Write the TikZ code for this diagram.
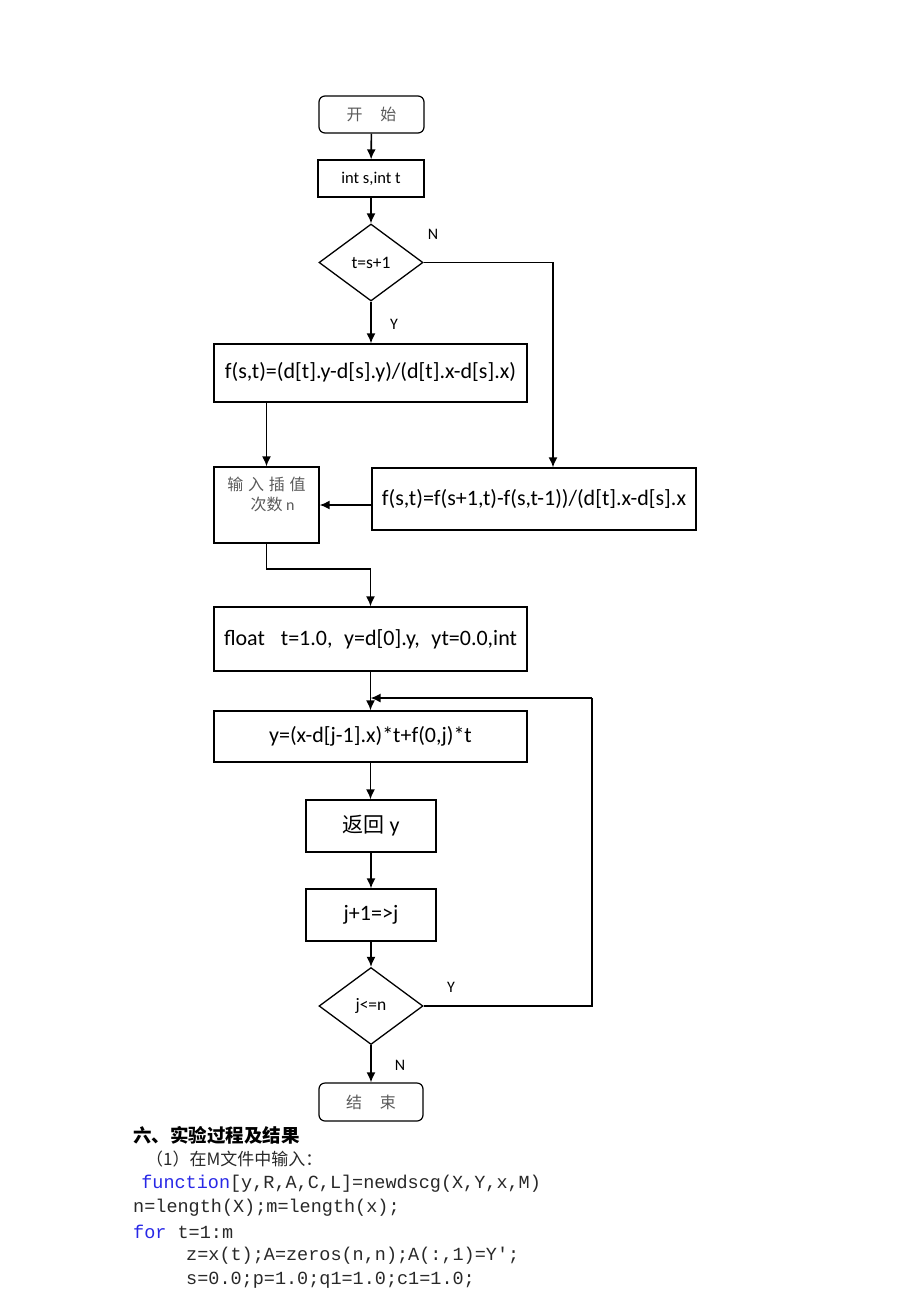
\documentclass[tikz,border=0pt]{standalone}
\usepackage{fontspec}
\setmainfont{Carlito}
\newfontfamily\cjk{Noto Sans CJK SC}
\newfontfamily\mono{Liberation Mono}
\usetikzlibrary{shapes.geometric,arrows.meta}
\definecolor{cjkgray}{RGB}{90,90,90}
\definecolor{codeblue}{RGB}{40,40,230}
\definecolor{codegray}{RGB}{40,40,40}
\tikzset{
  box/.style={draw, line width=1.3pt, rectangle, inner sep=0pt, font=\fontsize{22}{24}\selectfont},
  term/.style={draw, line width=1.2pt, rectangle, rounded corners=6pt, inner sep=0pt, font=\cjk\fontsize{16}{18}\selectfont, text=cjkgray},
  dec/.style={draw, line width=1.3pt, diamond, inner sep=0pt, minimum width=104pt, minimum height=77pt, font=\fontsize{17.5}{19}\selectfont},
  arr/.style={line width=1.6pt, -{Latex[length=10pt,width=9pt]}},
  conn/.style={line width=1.6pt},
  lab/.style={font=\fontsize{16}{18}\selectfont, inner sep=0pt},
  codeline/.style={anchor=west, inner sep=0pt, font=\mono\fontsize{18.5}{20}\selectfont, text=codegray}
}
\begin{document}
\begin{tikzpicture}[x=1pt,y=-1pt]
\useasboundingbox (0,0) rectangle (920,1302);
% nodes
\node[term, minimum width=105pt, minimum height=37pt] (start) at (371.5,114.5) {开\hspace{1.1em}始};
\node[box, minimum width=106pt, minimum height=37pt, font=\fontsize{16.5}{18}\selectfont] (init) at (371,178.5) {int s,int t};
\node[dec] (d1) at (371,262.5) {t=s+1};
\node[box, minimum width=313pt, minimum height=58pt] (f1) at (370.5,373) {\raisebox{5pt}{f(s,t)=(d[t].y-d[s].y)/(d[t].x-d[s].x)}};
\node[box, minimum width=324pt, minimum height=62pt] (f2) at (534,499) {f(s,t)=f(s+1,t)-f(s,t-1))/(d[t].x-d[s].x};
\node[box, minimum width=105pt, minimum height=76pt, font=\cjk\fontsize{16}{18}\selectfont, text=cjkgray] (in) at (266.5,505) {\parbox[c][76pt][t]{100pt}{\centering\vspace{10pt}输\hspace{0.3em}入\hspace{0.3em}插\hspace{0.3em}值\\[2pt]\hspace*{12pt}次数 {\fontspec{Carlito}n}}};
\node[box, minimum width=313pt, minimum height=64pt] (fl) at (370.5,639) {\raisebox{2pt}{float\hspace{0.5em} t=1.0,\hspace{0.3em} y=d[0].y,\hspace{0.3em} yt=0.0,int}};
\node[box, minimum width=313pt, minimum height=51pt] (ye) at (370.5,736.5) {y=(x-d[j-1].x)*t+f(0,j)*t};
\node[box, minimum width=130pt, minimum height=52pt] (ret) at (371,826) {\raisebox{1pt}{{\cjk\fontsize{21}{23}\selectfont 返回} y}};
\node[box, minimum width=130pt, minimum height=52pt] (inc) at (371,915) {j+1=>j};
\node[dec] (d2) at (371,1006) {j<=n};
\node[term, minimum width=104pt, minimum height=38pt] (stop) at (371,1102) {结\hspace{1.1em}束};
% labels
\node[lab] (n1) at (433,234) {N};
\node[lab] (y1) at (394,324) {Y};
\node[lab] (y2) at (451,987) {Y};
\node[lab] (n2) at (400,1065) {N};
% connectors
\draw[arr] (start) -- (init);
\draw[arr] (init) -- (d1);
\draw[arr] (d1.south) -- (d1.south |- f1.north);
\coordinate (nturn) at (553,262.5);
\draw[arr] (d1.east) -- (nturn) -- (nturn |- f2.north);
\draw[arr] (in.north |- f1.south) -- (in.north);
\draw[arr] (f2.west |- in.east) -- (in.east);
\coordinate (inturn) at (266.5,569);
\draw[arr] (in.south) -- (inturn) -| (fl.north);
\draw[arr] (fl.south) -- (ye.north);
\coordinate (loopc) at (592,698);
\draw[conn] (d2.east) -| (loopc);
\draw[arr] (loopc) -- (fl.south |- loopc);
\draw[arr] (ye.south) -- (ye.south |- ret.north);
\draw[arr] (ret) -- (inc);
\draw[arr] (inc) -- (d2);
\draw[arr] (d2) -- (stop);
% text below
\node[anchor=west, inner sep=0pt, font=\cjk\bfseries\fontsize{18.5}{20}\selectfont] (h6) at (133,1135) {六、实验过程及结果};
\node[anchor=west, inner sep=0pt, font=\cjk\fontsize{17}{19}\selectfont, text=codegray] (p1) at (146,1159) {（1）在M文件中输入：};
\node[codeline] (c1) at (130,1184) {\ \textcolor{codeblue}{function}[y,R,A,C,L]=newdscg(X,Y,x,M)};
\node[codeline] (c2) at (133,1208) {n=length(X);m=length(x);};
\node[codeline] (c3) at (133,1232) {\textcolor{codeblue}{for} t=1:m};
\node[codeline] (c4) at (186,1256) {z=x(t);A=zeros(n,n);A(:,1)=Y';};
\node[codeline] (c5) at (186,1280) {s=0.0;p=1.0;q1=1.0;c1=1.0;};
\end{tikzpicture}
\end{document}
